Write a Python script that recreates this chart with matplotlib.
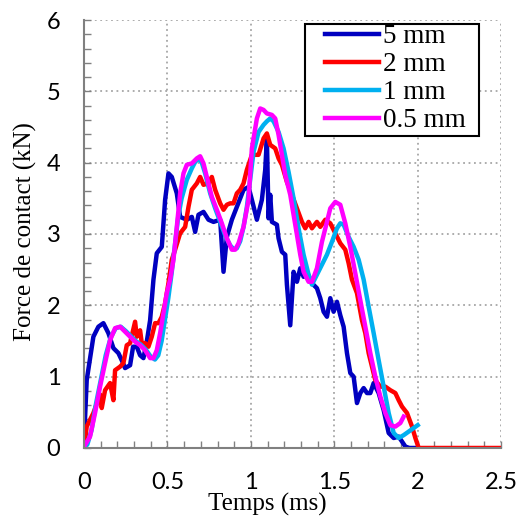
import matplotlib
matplotlib.use("Agg")
import matplotlib.pyplot as plt
from matplotlib.patches import Rectangle
from matplotlib.ticker import MultipleLocator, FuncFormatter

# Contact force curves (time in ms, force in kN)
t_5mm = [0.0, 0.016, 0.056, 0.086, 0.116, 0.146, 0.176, 0.206, 0.226, 0.246, 0.276, 0.294,
         0.316, 0.336, 0.356, 0.376, 0.396, 0.416, 0.436, 0.466, 0.486, 0.506, 0.526, 0.556,
         0.576, 0.616, 0.646, 0.666, 0.686, 0.716, 0.746, 0.776, 0.816, 0.836, 0.856, 0.886,
         0.916, 0.956, 0.986, 1.006, 1.036, 1.066, 1.086, 1.096, 1.106, 1.116, 1.126, 1.156,
         1.166, 1.186, 1.206, 1.216, 1.236, 1.256, 1.276, 1.296, 1.316, 1.336, 1.366, 1.396,
         1.416, 1.436, 1.456, 1.476, 1.496, 1.516, 1.536, 1.556, 1.576, 1.596, 1.616, 1.636,
         1.656, 1.676, 1.696, 1.716, 1.736, 1.766, 1.796, 1.826, 1.856, 1.886, 1.906, 1.926,
         1.95, 2.0]
f_5mm = [0.1, 0.95, 1.56, 1.70, 1.75, 1.61, 1.40, 1.33, 1.23, 1.12, 1.16, 1.42,
         1.42, 1.30, 1.26, 1.49, 1.79, 2.36, 2.73, 2.82, 3.48, 3.85, 3.80, 3.57,
         3.24, 3.20, 3.24, 3.03, 3.27, 3.31, 3.20, 3.17, 3.20, 2.47, 2.96, 3.20,
         3.38, 3.62, 3.66, 3.48, 3.20, 3.48, 3.90, 4.34, 3.22, 3.55, 3.17, 3.13,
         2.94, 2.75, 2.71, 2.29, 1.72, 2.47, 2.33, 2.52, 2.40, 2.47, 2.31, 2.24,
         2.10, 1.91, 1.84, 2.10, 1.91, 2.05, 1.86, 1.70, 1.33, 1.05, 1.00, 0.63,
         0.77, 0.84, 0.77, 0.77, 0.91, 0.77, 0.53, 0.21, 0.14, 0.16, 0.09, 0.02,
         0.0, 0.0]

t_2mm = [0.0, 0.016, 0.056, 0.096, 0.106, 0.126, 0.156, 0.176, 0.186, 0.216, 0.236, 0.256,
         0.276, 0.306, 0.316, 0.336, 0.346, 0.366, 0.386, 0.406, 0.426, 0.446, 0.466, 0.486,
         0.506, 0.526, 0.546, 0.576, 0.606, 0.626, 0.646, 0.676, 0.696, 0.716, 0.746, 0.766,
         0.786, 0.816, 0.836, 0.856, 0.876, 0.896, 0.916, 0.936, 0.956, 0.976, 1.006, 1.046,
         1.076, 1.096, 1.116, 1.146, 1.166, 1.186, 1.216, 1.246, 1.276, 1.306, 1.326, 1.346,
         1.366, 1.396, 1.416, 1.446, 1.476, 1.506, 1.536, 1.566, 1.586, 1.606, 1.636, 1.666,
         1.686, 1.706, 1.726, 1.746, 1.776, 1.806, 1.836, 1.866, 1.886, 1.906, 1.936, 1.966,
         1.986, 2.006, 2.5]
f_2mm = [0.0, 0.30, 0.49, 0.75, 0.56, 0.81, 0.91, 0.67, 1.09, 1.14, 1.19, 1.44,
         1.47, 1.77, 1.56, 1.65, 1.47, 1.47, 1.42, 1.56, 1.75, 1.75, 1.84, 2.03,
         2.31, 2.64, 2.78, 3.01, 3.10, 3.38, 3.62, 3.71, 3.80, 3.69, 3.71, 3.80,
         3.62, 3.43, 3.34, 3.41, 3.43, 3.43, 3.57, 3.62, 3.71, 3.90, 4.11, 4.11,
         4.34, 4.41, 4.25, 4.20, 4.06, 3.97, 3.73, 3.55, 3.36, 3.17, 3.08, 3.17,
         3.08, 3.17, 3.10, 3.20, 3.15, 3.01, 2.87, 2.78, 2.59, 2.36, 2.17, 1.79,
         1.61, 1.33, 1.14, 0.95, 0.86, 0.86, 0.81, 0.77, 0.67, 0.58, 0.49, 0.30,
         0.14, 0.0, 0.0]

t_1mm = [0.0, 0.02, 0.045, 0.07, 0.1, 0.13, 0.16, 0.19, 0.22, 0.25, 0.28, 0.31,
         0.34, 0.37, 0.40, 0.425, 0.445, 0.465, 0.485, 0.505, 0.525, 0.545, 0.565, 0.585,
         0.616, 0.646, 0.666, 0.686, 0.706, 0.726, 0.756, 0.786, 0.816, 0.846, 0.876, 0.896,
         0.916, 0.936, 0.956, 0.976, 1.016, 1.046, 1.076, 1.096, 1.116, 1.136, 1.166, 1.196,
         1.226, 1.256, 1.286, 1.316, 1.346, 1.366, 1.396, 1.426, 1.456, 1.486, 1.516, 1.536,
         1.556, 1.586, 1.616, 1.646, 1.676, 1.706, 1.736, 1.766, 1.796, 1.826, 1.856, 1.886,
         1.916, 1.946, 1.976, 2.0]
f_1mm = [0.0, 0.05, 0.25, 0.60, 0.95, 1.30, 1.55, 1.68, 1.70, 1.64, 1.57, 1.50,
         1.45, 1.38, 1.28, 1.24, 1.30, 1.50, 1.80, 2.10, 2.45, 2.85, 3.25, 3.50,
         3.76, 3.92, 4.01, 4.06, 4.00, 3.85, 3.57, 3.36, 3.17, 2.98, 2.84, 2.79,
         2.80, 2.90, 3.10, 3.38, 4.15, 4.43, 4.53, 4.58, 4.62, 4.58, 4.43, 4.20,
         3.87, 3.50, 3.08, 2.71, 2.43, 2.29, 2.43, 2.57, 2.71, 2.89, 3.08, 3.15,
         3.13, 2.96, 2.82, 2.64, 2.36, 1.98, 1.61, 1.23, 0.86, 0.49, 0.21, 0.14,
         0.18, 0.23, 0.28, 0.32]

t_05mm = [0.0, 0.036, 0.066, 0.096, 0.126, 0.156, 0.186, 0.216, 0.246, 0.276, 0.306, 0.336,
          0.366, 0.396, 0.416, 0.436, 0.456, 0.476, 0.496, 0.516, 0.536, 0.556, 0.576, 0.596,
          0.616, 0.646, 0.676, 0.696, 0.716, 0.736, 0.766, 0.796, 0.826, 0.856, 0.886, 0.906,
          0.926, 0.956, 0.986, 1.006, 1.036, 1.056, 1.076, 1.096, 1.126, 1.146, 1.166, 1.186,
          1.206, 1.236, 1.256, 1.276, 1.296, 1.316, 1.346, 1.366, 1.396, 1.426, 1.456, 1.476,
          1.506, 1.536, 1.566, 1.596, 1.626, 1.656, 1.686, 1.716, 1.746, 1.776, 1.806, 1.836,
          1.866, 1.896, 1.916]
f_05mm = [0.02, 0.16, 0.49, 0.86, 1.19, 1.51, 1.68, 1.70, 1.63, 1.56, 1.49, 1.44,
          1.37, 1.26, 1.26, 1.37, 1.61, 1.89, 2.17, 2.36, 2.64, 3.10, 3.57, 3.85,
          3.97, 3.99, 4.06, 4.09, 3.99, 3.80, 3.52, 3.34, 3.15, 2.94, 2.78, 2.78,
          2.87, 3.10, 3.48, 4.20, 4.62, 4.76, 4.74, 4.69, 4.67, 4.62, 4.39, 4.11,
          3.83, 3.55, 3.27, 2.99, 2.71, 2.47, 2.33, 2.33, 2.52, 2.89, 3.17, 3.36,
          3.45, 3.41, 3.15, 2.82, 2.45, 2.07, 1.70, 1.33, 1.00, 0.72, 0.49, 0.32,
          0.30, 0.35, 0.44]

series = [
    ("5 mm", t_5mm, f_5mm, "#0000C0"),
    ("2 mm", t_2mm, f_2mm, "#FF0000"),
    ("1 mm", t_1mm, f_1mm, "#00B0F0"),
    ("0.5 mm", t_05mm, f_05mm, "#FF00FF"),
]

serif = ["Liberation Serif", "DejaVu Serif"]

fig = plt.figure(figsize=(5.22, 5.20), dpi=100)
ax = fig.add_axes([0.161, 0.1385, 0.799, 0.823])

for label, t, f, color in series:
    ax.plot(t, f, color=color, linewidth=3.2, label=label, solid_joinstyle="round")

ax.set_xlim(0, 2.5)
ax.set_ylim(0, 6)
ax.xaxis.set_major_locator(MultipleLocator(0.5))
ax.xaxis.set_minor_locator(MultipleLocator(0.1))
ax.yaxis.set_major_locator(MultipleLocator(1))
ax.yaxis.set_minor_locator(MultipleLocator(0.2))
ax.xaxis.set_major_formatter(FuncFormatter(lambda v, pos: f"{v:g}"))
ax.yaxis.set_major_formatter(FuncFormatter(lambda v, pos: f"{v:g}"))

# dotted grid, including the top/right borders
ax.grid(True, which="major", color="#A6A6A6", linestyle=(0, (1, 2)), linewidth=1.3)
ax.set_axisbelow(True)
for side in ["top", "right"]:
    ax.spines[side].set_visible(False)
for side in ["left", "bottom"]:
    ax.spines[side].set_color("#808080")
    ax.spines[side].set_linewidth(1.5)

ax.tick_params(which="both", direction="in", color="#808080", width=1.0)
ax.tick_params(which="major", length=5, pad=17, labelsize=17, labelfontfamily="Lato")
ax.tick_params(which="minor", length=5)

ax.set_xlabel("Temps (ms)", family=serif, fontsize=18)
ax.set_ylabel("Force de contact (kN)", family=serif, fontsize=18)
ax.xaxis.set_label_coords(0.44, -0.105)
ax.yaxis.set_label_coords(-0.112, 0.505)

# legend box (white, black border) with the entries placed inside it
box = Rectangle((0.530, 0.729), 0.417, 0.262, transform=ax.transAxes,
                facecolor="white", edgecolor="black", linewidth=1.5, zorder=4)
ax.add_artist(box)
leg = ax.legend(loc="upper left", bbox_to_anchor=(0.578, 0.99), borderaxespad=0,
                prop={"family": serif, "size": 19.5}, frameon=False,
                handlelength=2.0, handletextpad=0.15, labelspacing=0.11, borderpad=0)
leg.set_zorder(5)

fig.savefig("out.png", dpi=100)
